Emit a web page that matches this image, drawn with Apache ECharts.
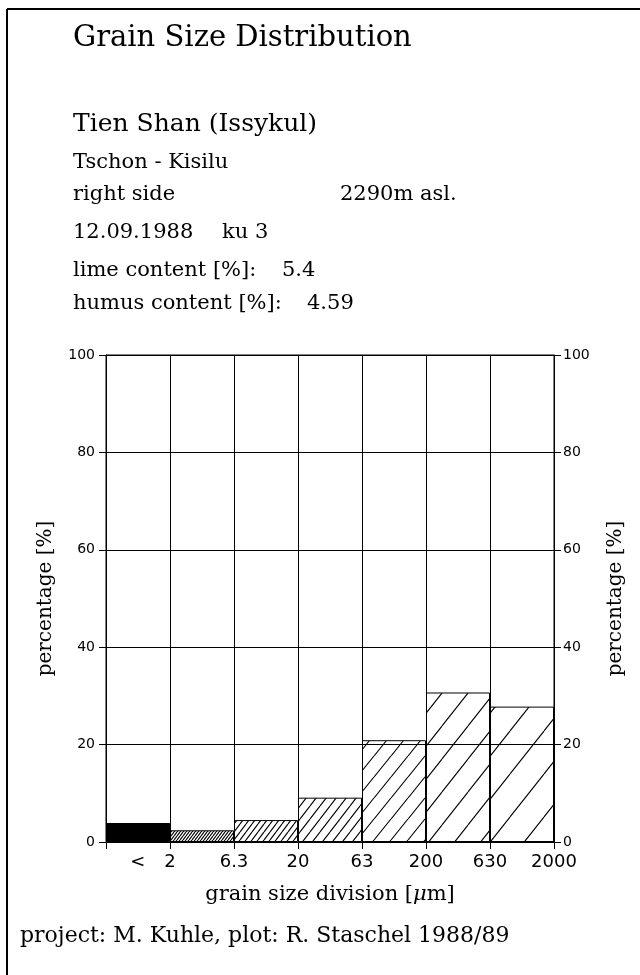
<!DOCTYPE html>
<html>
<head>
<meta charset="utf-8">
<script src="https://cdn.jsdelivr.net/npm/echarts@6/dist/echarts.min.js"></script>
<style>
  html, body { margin: 0; padding: 0; background: #fff; }
  #chart { width: 640px; height: 975px; }
</style>
</head>
<body>
<div id="chart"></div>
<script>
// grain size fractions (um) and their share in percent
var categories = ['< 2', '2 - 6.3', '6.3 - 20', '20 - 63', '63 - 200', '200 - 630', '630 - 2000'];
var percentages = [3.9, 2.4, 4.5, 9.1, 20.9, 30.7, 27.8];
var boundaryLabels = ['', '< 2', '6.3', '20', '63', '200', '630', '2000'];

var headerLines = [
    'Tien Shan (Issykul)',
    'Tschon - Kisilu',
    'right side', '2290m asl.',
    '12.09.1988', 'ku 3',
    'lime content [%]:', '5.4',
    'humus content [%]:', '4.59'
];

var serif = '"DejaVu Serif", serif';
var sans = '"DejaVu Sans", sans-serif';

// hatch tiles: horizontal spacing of the "/" lines, finer for finer fractions
var hatchSpacing = [0, 3, 6, 10, 17, 26, 34];

function makeHatch(w) {
    var h = Math.round(w * 1.25);
    var c = document.createElement('canvas');
    c.width = w;
    c.height = h;
    var ctx = c.getContext('2d');
    ctx.strokeStyle = '#000';
    ctx.lineWidth = 1.1;
    ctx.beginPath();
    for (var k = -1; k <= 1; k++) {
        ctx.moveTo(k * w, h);
        ctx.lineTo(k * w + w, 0);
    }
    ctx.stroke();
    return c;
}

function barColor(i) {
    if (!hatchSpacing[i]) return '#000';
    return { image: makeHatch(hatchSpacing[i]), repeat: 'repeat' };
}

function text(str, x, y, size) {
    return {
        type: 'text', x: x, y: y, silent: true,
        style: { text: str, font: size + 'px ' + serif, fill: '#000', textVerticalAlign: 'middle' }
    };
}

var chart = echarts.init(document.getElementById('chart'));

var yAxisBase = {
    type: 'value', min: 0, max: 100, interval: 20,
    axisLine: { show: true, lineStyle: { color: '#000', width: 1 } },
    axisTick: { show: true, length: 7, lineStyle: { color: '#000' } },
    axisLabel: { color: '#000', fontFamily: sans, fontSize: 14 },
    name: 'percentage [%]',
    nameLocation: 'middle',
    nameRotate: 90,
    nameTextStyle: { color: '#000', fontFamily: serif, fontSize: 20 }
};

var options = {
    animation: false,
    backgroundColor: '#fff',
    grid: { left: 106, right: 86, top: 355, bottom: 133, show: true, borderColor: '#000', borderWidth: 1 },
    xAxis: [
        {
            type: 'category', data: categories, boundaryGap: true,
            axisLine: { show: true, lineStyle: { color: '#000' } },
            axisTick: { show: false },
            axisLabel: { show: false },
            splitLine: { show: true, interval: 0, lineStyle: { color: '#000', width: 1 } }
        },
        {
            type: 'value', min: 0, max: boundaryLabels.length - 1, interval: 1,
            position: 'bottom', offset: 0,
            axisLine: { show: false },
            axisTick: { show: true, length: 7, lineStyle: { color: '#000' } },
            splitLine: { show: false },
            axisLabel: {
                color: '#000', fontFamily: sans, fontSize: 18, margin: 11,
                formatter: function (v) {
                    var s = boundaryLabels[Math.round(v)] || '';
                    if (s.charAt(0) === '<') return '{lt|<}' + s.slice(1).trim() + '{pad|}';
                    return s;
                },
                rich: {
                    lt: { width: 34, align: 'left', fontFamily: sans, fontSize: 18, color: '#000' },
                    pad: { width: 34, fontFamily: sans, fontSize: 18 }
                }
            },
            name: 'grain size division [{i|μ}m]',
            nameLocation: 'middle',
            nameGap: 42,
            nameTextStyle: {
                color: '#000', fontFamily: serif, fontSize: 21,
                rich: { i: { fontStyle: 'italic', fontFamily: serif, fontSize: 21, color: '#000' } }
            }
        }
    ],
    yAxis: [
        Object.assign({}, yAxisBase, {
            position: 'left', nameGap: 50,
            axisLabel: Object.assign({}, yAxisBase.axisLabel, { margin: 11 }),
            splitLine: { show: true, lineStyle: { color: '#000', width: 1 } }
        }),
        Object.assign({}, yAxisBase, {
            position: 'right', nameGap: 52,
            axisLabel: Object.assign({}, yAxisBase.axisLabel, { margin: 9 }),
            splitLine: { show: false }
        })
    ],
    series: [{
        type: 'bar',
        xAxisIndex: 0, yAxisIndex: 0,
        barWidth: '100%',
        data: percentages.map(function (v, i) {
            return { value: v, itemStyle: { color: barColor(i), borderColor: '#000', borderWidth: 1 } };
        })
    }],
    graphic: [
        { type: 'line', silent: true, shape: { x1: 7, y1: 9, x2: 640, y2: 9 }, style: { stroke: '#000', lineWidth: 2 } },
        { type: 'line', silent: true, shape: { x1: 7, y1: 9, x2: 7, y2: 975 }, style: { stroke: '#000', lineWidth: 2 } },
        text('Grain Size Distribution', 73, 38, 29),
        text(headerLines[0], 73, 124, 25),
        text(headerLines[1], 73, 163, 21),
        text(headerLines[2], 73, 195, 21),
        text(headerLines[3], 340, 195, 21),
        text(headerLines[4], 73, 233, 21),
        text(headerLines[5], 222, 233, 21),
        text(headerLines[6], 73, 271, 21),
        text(headerLines[7], 282, 271, 21),
        text(headerLines[8], 73, 304, 21),
        text(headerLines[9], 307, 304, 21),
        text('project: M. Kuhle, plot: R. Staschel 1988/89', 20, 936, 22)
    ]
};

chart.setOption(options);
</script>
</body>
</html>
